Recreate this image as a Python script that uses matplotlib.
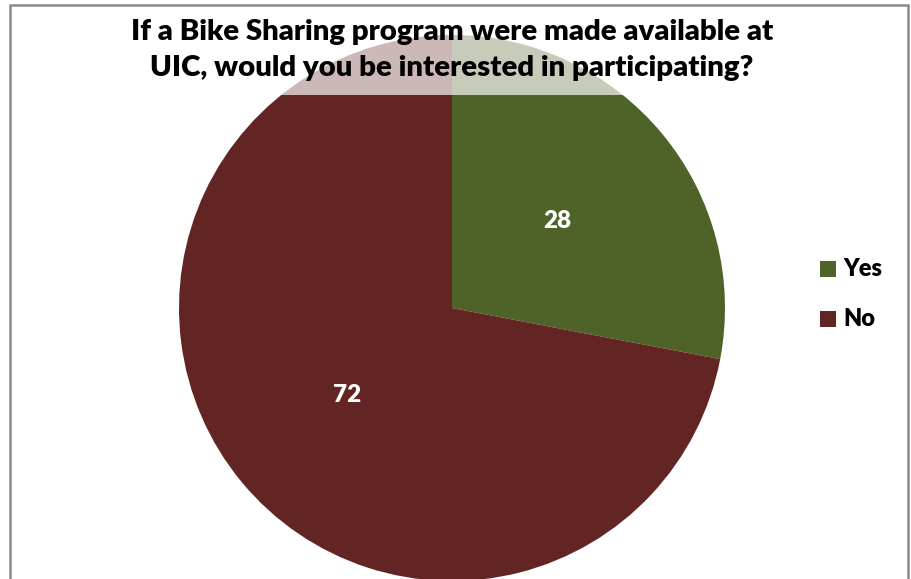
import matplotlib
matplotlib.use("Agg")
import matplotlib.pyplot as plt
import numpy as np
from matplotlib.patches import Rectangle

labels = ["Yes", "No"]
values = [28, 72]
colors = ["#4F6228", "#632523"]
title = "If a Bike Sharing program were made available at\nUIC, would you be interested in participating?"

W, H = 911, 579
fig = plt.figure(figsize=(W / 100, H / 100), dpi=100)
plt.rcParams["font.family"] = ["Lato", "DejaVu Sans"]

# pie placement (pixels): center (452, 308), radius 273
cx, cy, r = 452, 308, 273
ax = fig.add_axes([(cx - r) / W, (H - cy - r) / H, 2 * r / W, 2 * r / H])
wedges, texts = ax.pie(values, colors=colors, startangle=90, counterclock=False,
                       radius=1, wedgeprops=dict(linewidth=0))
ax.set_xlim(-1, 1)
ax.set_ylim(-1, 1)
ax.axis("off")

# value labels, half way out along each wedge
for w, v in zip(wedges, values):
    ang = np.deg2rad((w.theta1 + w.theta2) / 2)
    ax.text(0.5 * np.cos(ang), 0.5 * np.sin(ang), str(v), color="white",
            fontsize=17.5, fontweight="heavy", ha="center", va="center")

# chart border
fig.patches.append(Rectangle((10 / W, -0.05), 898 / W, (H - 5) / H + 0.05,
                             transform=fig.transFigure, fill=False,
                             edgecolor="#898989", linewidth=1.8, zorder=5))

# translucent title background
fig.patches.append(Rectangle((122 / W, (H - 95) / H), 662 / W, 90 / H,
                             transform=fig.transFigure, facecolor="white",
                             alpha=0.68, edgecolor="none", zorder=3))
fig.text(452 / W, (H - 50) / H, title, ha="center", va="center",
         fontsize=21.2, fontweight="heavy", linespacing=1.46, zorder=4)

# legend
for i, (lab, col) in enumerate(zip(labels, colors)):
    y = 269 + i * 50
    fig.patches.append(Rectangle((820 / W, (H - y - 8) / H), 16 / W, 16 / H,
                                 transform=fig.transFigure, facecolor=col,
                                 edgecolor="none"))
    fig.text(843 / W, (H - y) / H, lab, ha="left", va="center",
             fontsize=17, fontweight="heavy")

fig.savefig("out.png", dpi=100)
